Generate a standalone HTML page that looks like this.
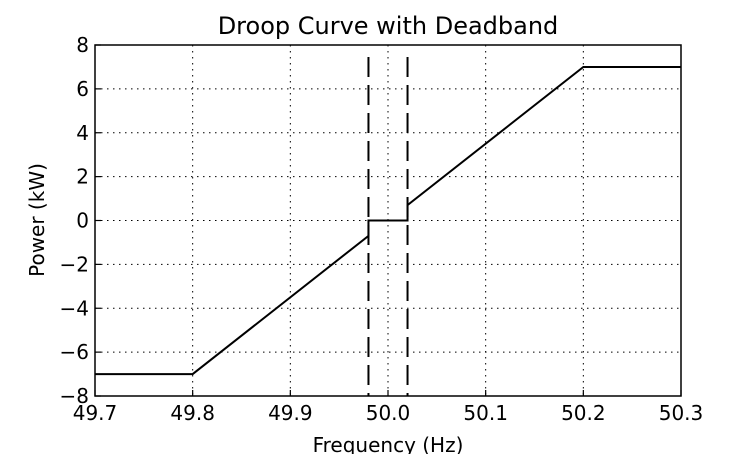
<!DOCTYPE html>
<html><head><meta charset="utf-8"><style>
html,body{margin:0;padding:0;background:#fff;}
svg text{font-family:"DejaVu Sans","Liberation Sans",sans-serif;fill:#000;}
</style></head><body>
<svg id="chart" width="756" height="454" xmlns="http://www.w3.org/2000/svg">
<rect width="756" height="454" fill="#fff"/>
<g id="grid"></g>
<g id="marks"></g>
<rect x="95" y="45" width="586" height="351" fill="none" stroke="#000" stroke-width="1.5"/>
<g id="ticks"></g>
<text x="388" y="34" font-size="24" text-anchor="middle">Droop Curve with Deadband</text>
<text x="388" y="452" font-size="20" text-anchor="middle">Frequency (Hz)</text>
<text x="0" y="0" font-size="20" text-anchor="middle" transform="translate(44,220) rotate(-90)">Power (kW)</text>
</svg>
<script>
const xTicks=[49.7,49.8,49.9,50.0,50.1,50.2,50.3];
const xTickLabels=["49.7","49.8","49.9","50.0","50.1","50.2","50.3"];
const yTicks=[-8,-6,-4,-2,0,2,4,6,8];
const yTickLabels=["\u22128","\u22126","\u22124","\u22122","0","2","4","6","8"];
const curveFreq=[49.7,49.8,49.98,49.98,50.02,50.02,50.2,50.3];
const curvePower=[-7,-7,-0.7,0,0,0.7,7,7];
const deadbandFreq=[49.98,50.02];
const X0=95,X1=681,Y0=396,Y1=45;
const xs=v=>X0+(v-49.7)/0.6*(X1-X0);
const ys=v=>Y0-(v+8)/16*(Y0-Y1);
const NS="http://www.w3.org/2000/svg";
function mk(tag,attrs,parent){const e=document.createElementNS(NS,tag);for(const k in attrs)e.setAttribute(k,attrs[k]);parent.appendChild(e);return e;}
const grid=document.getElementById('grid'),ticks=document.getElementById('ticks'),marks=document.getElementById('marks');
xTicks.forEach((v,i)=>{
  const x=xs(v);
  const g=mk('line',{x1:x,x2:x,y1:Y1,y2:Y0,stroke:'#000','stroke-width':1,'stroke-dasharray':'1.5,4.5'},grid);
  
  
  const t=mk('line',{x1:x,x2:x,y1:Y0,y2:Y0-6,stroke:'#000','stroke-width':1.2},ticks);
  
  
  const l=mk('text',{x:x,y:Y0+24,'font-size':20,'text-anchor':'middle'},ticks);
  l.textContent=xTickLabels[i];
  
  
});
yTicks.forEach((v,i)=>{
  const y=ys(v);
  const g=mk('line',{x1:X0,x2:X1,y1:y,y2:y,stroke:'#000','stroke-width':1,'stroke-dasharray':'1.5,4.5'},grid);
  
  
  const t=mk('line',{x1:X0,x2:X0+6,y1:y,y2:y,stroke:'#000','stroke-width':1.2},ticks);
  
  
  const l=mk('text',{x:X0-6,y:y+7,'font-size':20,'text-anchor':'end'},ticks);
  l.textContent=yTickLabels[i];
  
  
});
deadbandFreq.forEach(f=>{
  const x=xs(f);
  const d=mk('line',{x1:x,x2:x,y1:Y1+12,y2:Y0,stroke:'#000','stroke-width':2,'stroke-dasharray':'20,8'},marks);
  
  
});
const pts=curveFreq.map((f,i)=>xs(f)+','+ys(curvePower[i])).join(' ');
const pl=mk('polyline',{points:pts,fill:'none',stroke:'#000','stroke-width':2},marks);


</script>
</body></html>
